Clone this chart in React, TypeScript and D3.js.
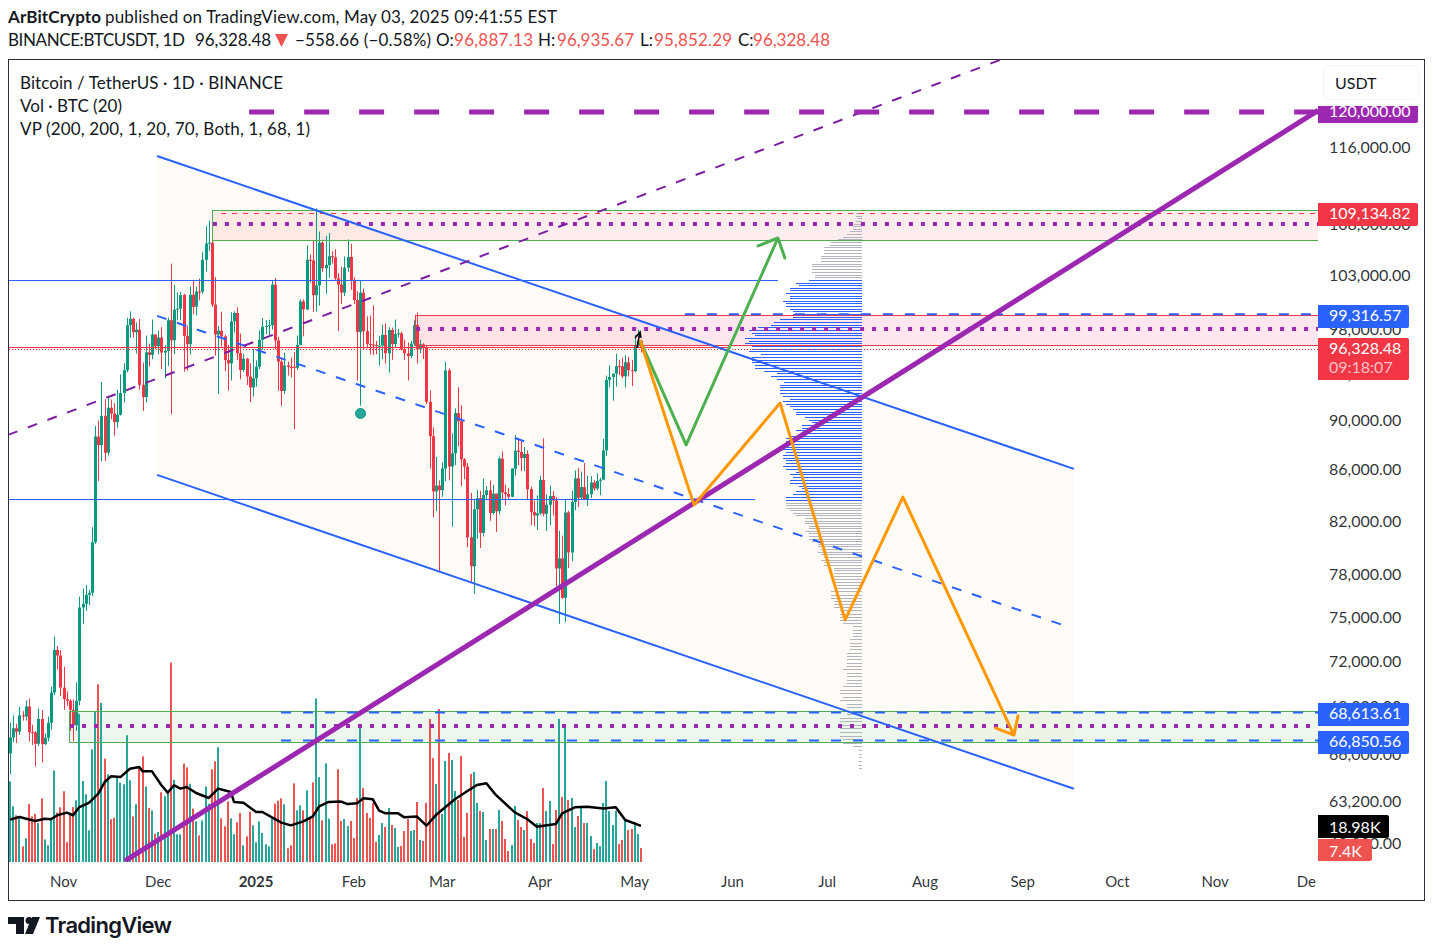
import React from "react";
import * as d3 from "d3";

const FONT = "Lato, 'Open Sans', sans-serif";
const INK = "#131722";
const UP = "#089981";
const DOWN = "#f23645";
const VOL_UP = "#26a69a";
const VOL_DOWN = "#ef5350";
const BLUE = "#2962ff";
const PURPLE = "#9c27b0";
const GREEN = "#4caf50";
const ORANGE = "#ff9800";
// Lato sits a bit high with dominantBaseline middle
const TEXT_SHIFT = 2;

// daily candles, Oct 15 2024 -> May 3 2025
const firstDay = new Date(Date.UTC(2024, 9, 15));

const opens = [
    66050, 67040, 67612, 67400, 68430, 68360, 69000, 67370, 67360, 66650, 68200, 66630, 67020, 67960, 69900, 72720, 72340,
    70215, 69480, 69370, 68780, 67810, 69360, 75640, 75900, 76540, 76680, 80370, 88650, 87950, 90375, 87325, 91060, 90560, 89845, 90465, 92310, 94286, 98317, 98892, 97672, 97900, 93010, 91965, 95863, 95643, 97460,
    96407, 97185, 95840, 96000, 98768, 96945, 99740, 99831, 101109, 97340, 96593, 101125, 100000, 101424, 101420, 104463, 106058, 106133, 100204, 97461, 97805, 97291, 95186, 94881, 98663, 99430, 95791, 94299, 95300, 93738, 92792,
    93576, 94591, 96984, 98174, 98236, 98314, 102078, 96922, 95043, 92484, 94701, 94566, 94600, 94500, 96534, 100504, 99756, 104462, 104408, 101089, 102016, 106146, 103653, 103960, 104819, 104714, 102682, 102087, 101332, 103703, 104735,
    102429, 100635, 97700, 101328, 97763, 96612, 96554, 96506, 96444, 96462, 97430, 95778, 97870, 96608, 97500, 97570, 96118, 95780, 95539, 96635, 98333, 96125, 96577, 96273, 91552, 88680, 84250, 84708,
    84349, 86064, 94270, 86220, 87281, 90606, 89931, 86801, 86222, 80734, 78595, 82862, 83722, 81066, 83969, 84343, 82579, 84075, 82718, 86854, 84167, 84043, 83832, 86054, 87498, 87392, 86909, 87232, 84424, 82648, 82390,
    82550, 85158, 82516, 83213, 83889, 83537, 78430, 79163, 76322, 82615, 79607, 83423, 85276, 83760, 84591, 83643, 84030, 84947, 84474, 85077, 85179, 87516, 93442, 93691, 93980, 94638, 94630, 93754, 94978, 94284,
    94207, 96487, 96887,
];
const closes = [
    67040, 67612, 67400, 68430, 68360, 69000, 67370, 67360, 66650, 68200, 66630, 67020, 67960, 69900, 72720, 72340, 70215,
    69480, 69370, 68780, 67810, 69360, 75640, 75900, 76540, 76680, 80370, 88650, 87950, 90375, 87325, 91060, 90560, 89845, 90465, 92310, 94286, 98317, 98892, 97672, 97900, 93010, 91965, 95863, 95643, 97460, 96407,
    97185, 95840, 96000, 98768, 96945, 99740, 99831, 101109, 97340, 96593, 101125, 100000, 101424, 101420, 104463, 106058, 106133, 100204, 97461, 97805, 97291, 95186, 94881, 98663, 99430, 95791, 94299, 95300, 93738, 92792, 93576,
    94591, 96984, 98174, 98236, 98314, 102078, 96922, 95043, 92484, 94701, 94566, 94488, 94500, 96534, 100504, 99756, 104462, 104408, 101089, 102016, 106146, 103653, 103960, 104819, 104714, 102682, 102087, 101332, 103703, 104735, 102429,
    100635, 97700, 101328, 97763, 96612, 96554, 96506, 96444, 96462, 97430, 95778, 97870, 96608, 97500, 97570, 96118, 95780, 95539, 96635, 98333, 96125, 96577, 96273, 91552, 88680, 84250, 84708, 84349,
    86064, 94270, 86220, 87281, 90606, 89931, 86801, 86222, 80734, 78595, 82862, 83722, 81066, 83969, 84343, 82579, 84075, 82718, 86854, 84167, 84043, 83832, 86054, 87498, 87392, 86909, 87232, 84424, 82648, 82390, 82550,
    85158, 82516, 83213, 83889, 83537, 78430, 79163, 76322, 82615, 79607, 83423, 85276, 83760, 84591, 83643, 84030, 84947, 84474, 85077, 85179, 87516, 93442, 93691, 93980, 94638, 94630, 93754, 94978, 94284, 94207,
    96487, 96887, 96328,
];
const highs = [
    67950, 68424, 67900, 68969, 68700, 69400, 69500, 67830, 67450, 68850, 68750, 67300, 68350, 70270, 73620, 72980, 72700,
    71600, 69970, 69450, 69450, 70570, 76400, 76980, 77250, 76900, 81500, 89530, 89980, 93260, 91790, 91850, 91760, 91450, 92590, 93900, 94900, 98988, 99588, 99000, 98564, 98871, 94973, 97360, 96650, 98830, 97463,
    97836, 98130, 96500, 99000, 104088, 102039, 101350, 101400, 101215, 98270, 101895, 102540, 101895, 102650, 105250, 107780, 108353, 106524, 102800, 98233, 99540, 97448, 96538, 99487, 99569, 99963, 97544, 95733, 95350, 94900, 96150,
    95150, 97839, 98976, 98778, 98813, 102480, 102724, 97259, 95350, 95836, 95050, 95400, 95900, 97371, 100700, 100700, 105886, 104988, 106300, 109588, 107240, 106300, 106800, 107100, 105286, 105500, 103200, 103800, 104800, 106458, 106012,
    102783, 101456, 102500, 101730, 99120, 99197, 100137, 96880, 97323, 98345, 98478, 98119, 98090, 98826, 97972, 97704, 97000, 96753, 96899, 98766, 99475, 96980, 96671, 96503, 92540, 89414, 87000, 85120,
    86558, 95000, 94416, 88911, 91000, 92810, 91283, 86897, 86500, 84123, 83617, 84358, 84300, 85263, 84672, 85117, 84756, 84075, 87022, 87443, 84782, 84513, 86094, 88765, 88542, 88292, 87786, 87515, 84624, 83534, 83943,
    85487, 88500, 83998, 84720, 84266, 83817, 81243, 80867, 83588, 82753, 84300, 85905, 86100, 85799, 86496, 85500, 85470, 85132, 85677, 85320, 88460, 93817, 94696, 94000, 95758, 95199, 95369, 95630, 95461, 95199,
    97437, 97895, 96935,
];
const lows = [
    64800, 66750, 66700, 67200, 68100, 68100, 66800, 66570, 65260, 66500, 65500, 66580, 66800, 67530, 69730, 71400, 69680,
    68780, 69040, 67450, 66800, 67450, 69060, 74480, 75400, 75820, 76450, 80220, 85070, 86640, 86670, 87110, 90090, 88720, 89380, 90400, 91500, 94100, 97150, 97200, 95734, 92600, 90791, 91500, 94600, 95250, 96150,
    95693, 94395, 93578, 94660, 90500, 95700, 98770, 98771, 94150, 94256, 95657, 99311, 99205, 100609, 101230, 103332, 105321, 100000, 95587, 92232, 96398, 94200, 92520, 93390, 97632, 95199, 93500, 94137, 93000, 91530, 92000,
    92869, 94392, 96100, 97514, 97300, 97900, 96132, 92500, 91203, 92206, 93831, 93690, 89256, 94310, 96500, 97300, 99700, 102277, 99518, 99550, 100120, 103300, 101230, 102750, 104100, 102500, 97777, 100272, 101000, 103300, 101600,
    100279, 93388, 91231, 96150, 96216, 95676, 95620, 95688, 94713, 95256, 94876, 94088, 95217, 96252, 97232, 96046, 95205, 93388, 95348, 96425, 94871, 95800, 95270, 91371, 86050, 82256, 82716, 78258,
    83824, 85050, 85117, 81529, 86334, 87836, 84667, 85218, 80000, 77459, 76606, 80635, 79931, 80797, 83639, 81981, 82456, 81134, 82457, 83655, 83175, 83674, 83794, 85519, 86310, 85861, 85837, 83644, 81644, 81565, 81279,
    82429, 82320, 81211, 81659, 82379, 77153, 74508, 76239, 74620, 78464, 78969, 82792, 83034, 83678, 83600, 83111, 83736, 84303, 84364, 83949, 85143, 87084, 92813, 91660, 92856, 93870, 93602, 92800, 93742, 92910,
    94110, 96350, 95852,
];
// volume in thousands of BTC
const volumes = [
    42.5, 29.3, 24.6, 22.8, 8.2, 12.5, 30.5, 24, 25.3, 20.5, 33.5, 11.9, 8.8, 23.3, 48.2, 26, 28.8, 37.2, 10.4, 25.8, 28.9, 32.5,
    78, 42.6, 35.6, 16.7, 59.3, 78.9, 93.5, 83.7, 54.4, 46.1, 22.5, 23.3, 44.7, 41.8, 40.9, 66.7, 43, 24, 30.4, 50, 55.6,
    39.8, 28.4, 27.2, 14.9, 15.8, 36.7, 34.6, 36.5, 105, 43.3, 14.6, 14.6, 51.8, 49.8, 41.2, 28.1, 21.4, 14, 21.8, 39.8,
    30.7, 48.8, 53, 60.4, 23, 18.8, 31.9, 23, 14.6, 20.9, 25.8, 8.8, 13.5, 26.5, 19.3, 10.4, 21.4, 15.3, 9.3, 8.2,
    23.3, 30.7, 32.3, 33.5, 30.4, 7.2, 8.8, 41.4, 27.2, 29.8, 27.2, 37.7, 23.7, 41.9, 86.1, 44.7, 21.9, 51.9, 22.8, 9.3, 9.8, 48.8,
    21.6, 22.6, 18.9, 21.6, 12.6, 33.7, 72.6, 38.9, 25.8, 23.2, 31.1, 10.5, 14.2, 20.5, 18.4, 28.4, 19.5, 17.9, 7.9, 8.4,
    16.3, 22.6, 16.3, 16.8, 31.6, 11.6, 11.1, 31.1, 75.3, 54.7, 41.1, 80.5, 25.3, 53.2, 57.4, 53.7, 37.4, 32.6, 55.8, 13.2,
    25.8, 46.3, 47.4, 31.1, 26.8, 26.3, 11.6, 17.4, 17.4, 17.4, 27.4, 21.6, 12.1, 5.8, 8.9, 29.5, 22.1, 18.4, 16.8, 26.8,
    12.1, 10, 20.5, 20.5, 38.9, 26.8, 32.1, 9.5, 27.4, 75.3, 34.2, 72.6, 32.6, 33.7, 18.4, 24.2, 28.4, 20.5, 20.5, 13.7,
    6.8, 10, 8.4, 31.1, 42.6, 26.8, 19.5, 26.8, 9.5, 11.6, 22.1, 16.8, 17.4, 21.1, 14.7, 7.4,
];
// Vol MA(20) read at these bar numbers
const volMaBars = [0, 3, 8, 11, 13, 15, 18, 20, 22, 25, 28, 30, 32, 35, 38, 41, 42, 45, 48, 50, 52, 54, 56, 59, 63, 66, 70, 71, 74, 78, 80, 86, 89, 93, 96, 98, 101, 105, 107, 110, 112, 115, 117, 119, 123, 125, 129, 132, 135, 141, 145, 148, 151, 154, 160, 164, 167, 173, 175, 179, 183, 188, 192, 195, 200];
const volMaValues = [22.3, 23.7, 21.6, 22.8, 22.5, 24.6, 26, 24.6, 28.9, 31.1, 36, 42.1, 45.1, 44.7, 49.1, 50, 47.7, 47.7, 40.4, 36.5, 40.4, 38.6, 39.5, 36.3, 33.7, 38.6, 36.8, 31.6, 31.2, 26.3, 26.3, 20.7, 19.3, 21.4, 24, 29.3, 31.6, 31.8, 30.5, 30.9, 33.5, 33, 27, 25.6, 25.6, 23.5, 23.9, 19.1, 24.7, 33, 37.4, 40.5, 41.4, 35.3, 26.1, 22.5, 18.6, 20, 25.6, 28.8, 29.1, 28.1, 28.8, 22.1, 18.98];

// visible range volume profile, top row first, relative row volume
const vpRows = [
    6, 6, 5, 6, 8, 9, 9, 12, 15, 19, 24, 31, 32, 38, 38, 38, 41, 41, 41, 50, 50, 50, 50, 47, 47,
    53, 66, 63, 72, 72, 76, 72, 72, 79, 76, 76, 72, 69, 69, 69, 82, 88, 91, 104, 113, 110, 107, 117, 113, 117, 110, 110, 113, 101, 110, 110, 110, 107, 107, 98, 85, 91, 85, 78, 82, 82, 82, 82,
    79, 72, 79, 76, 72, 69, 66, 66, 57, 53, 50, 60, 60, 66, 60, 72, 76, 76, 72, 76, 79, 76, 79, 79, 76, 76, 79, 76, 66, 72, 69, 72, 72, 63, 60, 66, 69, 76, 76,
    76, 76, 76, 72, 69, 66, 57, 57, 57, 53, 53, 57, 53, 53, 53, 50, 44, 44, 41, 44, 41, 38, 41, 38, 38, 28, 28, 28,
    28, 28, 28, 25, 25, 31, 31, 31, 28, 28, 28, 22, 22, 22, 22, 19, 9, 9, 9, 9, 12, 12, 12, 12, 15, 15, 15, 15, 15, 19, 15, 15, 15, 15, 19, 22, 22, 19, 22, 15, 15, 19, 15, 22, 22, 22, 22, 22, 22, 19, 19, 9, 3, 3, 3, 3, 3, 3,
];
const vpRowAnchors = [0, 25, 68, 107, 135, 192];
const vpPriceAnchors = [109100, 102500, 92060, 83370, 77900, 65150];
const vpValueAreaRows = [25, 106];

const priceTicks = [116000, 108000, 103000, 98000, 94000, 90000, 86000, 82000, 78000, 75000, 72000, 69000, 66000, 63200, 60800];

// chart drawings as [bar number, price], bars past 200 are in the future
const channelTop = [[46.6, 115035], [337.2, 86030]];
const channelBottom = [[46.6, 85550], [337.2, 63920]];
const channelMiddle = [[46.6, 99160], [333.7, 74420]];
const thickTrend = [[36.45, 59780], [414.6, 120000]];
const thinTrend = [[-0.6, 88790], [313.8, 125760]];
const greenPath = [[199.7, 96960], [214.3, 87970], [243.4, 106600]];
const greenHead = [[237.1, 105820], [243.4, 106600], [245.6, 104640]];
const orangePath = [[199.7, 96960], [216.8, 83200], [244.1, 91450], [264.7, 74780], [283, 83810], [318.2, 67190]];
const orangeHead = [[312.5, 67630], [318.2, 67190], [319.5, 68400]];
const smallArrow = [[198.7, 96250], [199.7, 97700]];
const smallArrowHead = [[198.1, 97150], [199.7, 97700], [200, 97150]];
const rightBar = 414.6;

const zones = [
    { from: 64, top: 109410, bottom: 106400, mid: 107990, fill: DOWN, fillOpacity: 0.09, stroke: GREEN },
    { from: 128.4, top: 99250, bottom: 96530, mid: 97960, fill: "#e91e63", fillOpacity: 0.11, stroke: DOWN },
    { from: 18.7, top: 68690, bottom: 66750, mid: 67760, fill: GREEN, fillOpacity: 0.1, stroke: GREEN },
];
const blueDashLevels = [
    { from: 213.9, price: 99316.57 },
    { from: 85.9, price: 68613.61 },
    { from: 85.9, price: 66850.56 },
];

const x = d3.scaleLinear([0, 200], [10, 641]);
const y = d3.scaleLog([63200, 116000], [801, 147]);
const yVol = d3.scaleLinear([0, 100], [862, 672]);
const xVp = d3.scaleLinear([0, 117], [0, 117]);
const vpPrice = d3.scaleLinear(vpRowAnchors, vpPriceAnchors);

const crisp = (v: number) => Math.round(v) + 0.5;

const monthTicks = d3.utcMonth.range(new Date(Date.UTC(2024, 10, 1)), new Date(Date.UTC(2026, 0, 1)));
const monthLabel = (d: Date) => d.getUTCMonth() === 0 ? d3.utcFormat("%Y")(d) : d3.utcFormat("%b")(d);

const seg = d3.line<number[]>().x((d) => x(d[0])).y((d) => y(d[1]));
const maLine = d3.line<number>().x((d, i) => x(volMaBars[i])).y((d) => yVol(d));

function Label(props: { x: number; y: number; size?: number; fill?: string; weight?: number; len?: number; children: React.ReactNode; opacity?: number }) {
    return <text x={props.x} y={props.y + TEXT_SHIFT} dominantBaseline="middle" fontSize={props.size ?? 16} fill={props.fill ?? INK}
        fontWeight={props.weight} textLength={props.len} fillOpacity={props.opacity}>{props.children}</text>;
}

function PriceLabel(props: { top: number; bottom: number; right: number; fill: string; text: string; sub?: string; textY: number }) {
    const { top, bottom, right, fill, text, sub, textY } = props;
    return <g>
        <path d={`M1318 ${top}H${right - 2}q2 0 2 2V${bottom - 2}q0 2 -2 2H1318Z`} fill={fill} />
        <Label x={1329} y={textY} fill="#fff">{text}</Label>
        {sub && <Label x={1329} y={textY + 19} fill="#fff" opacity={0.7}>{sub}</Label>}
    </g>;
}

const headerValues: [string, string, number, number, number][] = [
    ["O:", "96,887.13", 436, 454, 79],
    ["H:", "96,935.67", 538, 557, 77],
    ["L:", "95,852.29", 640, 654, 78],
    ["C:", "96,328.48", 738, 753, 77],
];

export default function App() {
    return <svg width={1433} height={950} style={{ position: "absolute", left: 0, top: 0, background: "#fff" }} fontFamily={FONT}>
        <defs>
            <clipPath id="plot"><rect x={9} y={60} width={1309} height={802} /></clipPath>
            <clipPath id="timeAxis"><rect x={9} y={862} width={1307} height={38} /></clipPath>
            <clipPath id="topLabel"><rect x={1318} y={106} width={101} height={18} /></clipPath>
        </defs>

        <Label x={8} y={17} size={17} weight={700} len={93}>ArBitCrypto</Label>
        <Label x={105} y={17} size={17} len={452}>published on TradingView.com, May 03, 2025 09:41:55 EST</Label>
        <Label x={8} y={40} size={17} len={177}>BINANCE:BTCUSDT, 1D</Label>
        <Label x={195} y={40} size={17} len={76}>96,328.48</Label>
        <path d="M275 34H288L281.500 47Z" fill={VOL_DOWN} />
        <Label x={295} y={40} size={17} len={136}>−558.66 (−0.58%)</Label>
        {headerValues.map(([k, v, kx, vx, w]) =>
            <g key={k}>
                <Label x={kx} y={40} size={17}>{k}</Label>
                <Label x={vx} y={40} size={17} fill={VOL_DOWN} len={w}>{v}</Label>
            </g>)}

        <rect x={8.5} y={59.5} width={1416} height={841} fill="#fff" stroke={INK} strokeOpacity={0.9} />

        <g clipPath="url(#plot)">
            <path d={`M${x(channelTop[0][0])} ${y(channelTop[0][1])}L${x(channelTop[1][0])} ${y(channelTop[1][1])}L${x(channelBottom[1][0])} ${y(channelBottom[1][1])}L${x(channelBottom[0][0])} ${y(channelBottom[0][1])}Z`}
                fill={ORANGE} fillOpacity={0.035} />

            {zones.map((z) => <rect key={z.from} x={x(z.from)} y={y(z.top)} width={x(rightBar) - x(z.from)} height={y(z.bottom) - y(z.top)}
                fill={z.fill} fillOpacity={z.fillOpacity} />)}

            {/* volume profile */}
            {vpRows.map((v, i) => {
                const inVa = i >= vpValueAreaRows[0] && i <= vpValueAreaRows[1];
                const rowY = crisp(y(vpPrice(i)));
                return <line key={i} x1={862 - xVp(v)} x2={862} y1={rowY} y2={rowY} stroke={inVa ? BLUE : "#b2b5be"} />;
            })}

            {/* volume */}
            {volumes.map((v, i) => <rect key={i} x={Math.round(x(i)) - 1} y={yVol(v)} width={2} height={yVol(0) - yVol(v)}
                fill={closes[i] >= opens[i] ? VOL_UP : VOL_DOWN} />)}
            <path d={maLine(volMaValues)!} fill="none" stroke="#000" strokeWidth={2.5} strokeLinejoin="round" />

            {/* candles */}
            {opens.map((o, i) => {
                const c = closes[i];
                const color = c >= o ? UP : DOWN;
                const cx = Math.round(x(i));
                return <g key={i} fill={color}>
                    <rect x={cx} y={y(highs[i])} width={1} height={y(lows[i]) - y(highs[i])} />
                    <rect x={cx - 1} y={y(Math.max(o, c))} width={3} height={Math.max(1, Math.abs(y(o) - y(c)))} />
                </g>;
            })}

            <line x1={9} x2={x(228)} y1={crisp(y(closes[200]))} y2={crisp(y(closes[200]))} stroke={DOWN} />
            <line x1={9} x2={1318} y1={crisp(y(96180))} y2={crisp(y(96180))} stroke={DOWN} strokeDasharray="1 2" />
            <line x1={9} x2={x(243.4)} y1={crisp(y(102500))} y2={crisp(y(102500))} stroke={BLUE} />
            <line x1={9} x2={x(236.2)} y1={crisp(y(83680))} y2={crisp(y(83680))} stroke={BLUE} />

            {/* zones outline and levels */}
            {zones.map((z) => <g key={z.from}>
                <rect x={crisp(x(z.from))} y={crisp(y(z.top))} width={x(rightBar) - x(z.from) + 4} height={Math.round(y(z.bottom) - y(z.top))}
                    fill="none" stroke={z.stroke} strokeWidth={1} />
                <line x1={x(z.from) + 1} x2={x(rightBar)} y1={y(z.mid)} y2={y(z.mid)} stroke={PURPLE} strokeWidth={4} strokeDasharray="4 8" />
            </g>)}
            <line x1={x(66.9)} x2={x(rightBar)} y1={crisp(y(109134.82))} y2={crisp(y(109134.82))} stroke={DOWN} strokeDasharray="5 6" />
            {blueDashLevels.map((l) => <line key={l.price} x1={x(l.from)} x2={x(rightBar)} y1={y(l.price)} y2={y(l.price)} stroke={BLUE} strokeWidth={2} strokeDasharray="10 12" />)}

            {/* channel and trend lines */}
            <path d={seg(channelTop)!} fill="none" stroke={BLUE} strokeWidth={2} />
            <path d={seg(channelBottom)!} fill="none" stroke={BLUE} strokeWidth={2} />
            <path d={seg(channelMiddle)!} fill="none" stroke={BLUE} strokeWidth={2} strokeDasharray="10 11" />
            <path d={seg(thinTrend)!} fill="none" stroke="#7b1fa2" strokeWidth={2} strokeDasharray="10 11" />
            <line x1={x(75.8)} x2={x(rightBar)} y1={y(120000) + 1.5} y2={y(120000) + 1.5} stroke={PURPLE} strokeWidth={5} strokeDasharray="25 30" />
            <path d={seg(thickTrend)!} fill="none" stroke={PURPLE} strokeWidth={5} />

            <path d={seg(greenPath)!} fill="none" stroke={GREEN} strokeWidth={3} strokeLinejoin="round" />
            <path d={seg(greenHead)!} fill="none" stroke={GREEN} strokeWidth={3} strokeLinecap="round" strokeLinejoin="round" />
            <path d={seg(orangePath)!} fill="none" stroke={ORANGE} strokeWidth={3} strokeLinejoin="round" />
            <path d={seg(orangeHead)!} fill="none" stroke={ORANGE} strokeWidth={3} strokeLinecap="round" strokeLinejoin="round" />
            <path d={seg(smallArrow)!} fill="none" stroke="#000" strokeWidth={1.5} />
            <path d={seg(smallArrowHead)!} fill="none" stroke="#000" strokeWidth={1.5} />

            <circle cx={x(111.1)} cy={y(90570)} r={5} fill={VOL_UP} stroke={UP} />
        </g>

        {/* price scale */}
        {priceTicks.map((p) => <Label key={p} x={1329} y={y(p)} opacity={0.9}>{d3.format(",.2f")(p)}</Label>)}

        <g clipPath="url(#topLabel)">
            <PriceLabel top={100} bottom={123} right={1418} fill={PURPLE} text="120,000.00" textY={111} />
        </g>
        <PriceLabel top={203} bottom={226} right={1418} fill={DOWN} text="109,134.82" textY={213} />
        <PriceLabel top={305} bottom={328} right={1409} fill={BLUE} text="99,316.57" textY={315} />
        <PriceLabel top={338} bottom={380} right={1409} fill={DOWN} text="96,328.48" sub="09:18:07" textY={348} />
        <PriceLabel top={703} bottom={726} right={1409} fill={BLUE} text="68,613.61" textY={713} />
        <PriceLabel top={731} bottom={754} right={1409} fill={BLUE} text="66,850.56" textY={741} />
        <PriceLabel top={815} bottom={838} right={1389} fill="#000" text="18.98K" textY={827} />
        <PriceLabel top={839} bottom={861} right={1372} fill={VOL_DOWN} text="7.4K" textY={851} />

        <rect x={1323.5} y={65.5} width={95} height={34} rx={6} fill="#fff" stroke="#f0f3fa" />
        <Label x={1335} y={83}>USDT</Label>

        {/* time scale */}
        <g clipPath="url(#timeAxis)">
            {monthTicks.map((d) => <text key={d.getTime()} x={x(d3.utcDay.count(firstDay, d))} y={881 + TEXT_SHIFT} dominantBaseline="middle" textAnchor="middle"
                fontSize={15} fontWeight={d.getUTCMonth() === 0 ? 700 : 400} fill={INK} fillOpacity={0.9}>{monthLabel(d)}</text>)}
        </g>

        {/* legend */}
        <Label x={20} y={83} size={17} len={263}>Bitcoin / TetherUS · 1D · BINANCE</Label>
        <Label x={20} y={106} size={17} len={102}>Vol · BTC (20)</Label>
        <Label x={20} y={129} size={17} len={290}>VP (200, 200, 1, 20, 70, Both, 1, 68, 1)</Label>

        {/* logo */}
        <g fill={INK}>
            <path d="M8 917H24V934H16V924H8Z" />
            <circle cx={29} cy={920.500} r={3.500} />
            <path d="M32 917H40L33 934H25Z" />
        </g>
        <text x={45} y={926 + TEXT_SHIFT - 1} dominantBaseline="middle" fontSize={22} fontWeight={600} fontFamily="Inter, sans-serif" fill={INK} textLength={127}>TradingView</text>
    </svg>;
}
